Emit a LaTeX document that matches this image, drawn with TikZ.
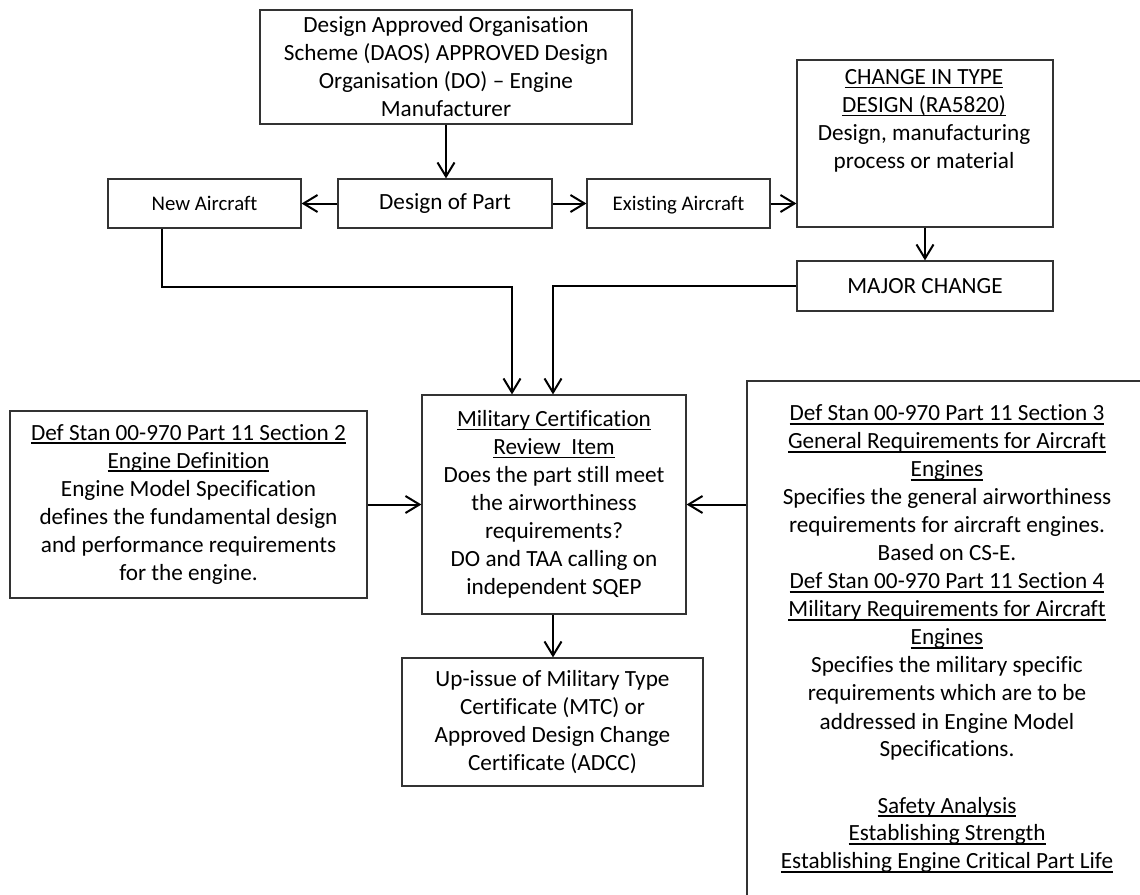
\documentclass[tikz,border=0pt]{standalone}
\usepackage{fontspec}
\setmainfont{Carlito}[Ligatures={TeX,NoCommon}]
\usetikzlibrary{arrows.meta,calc}
% underline at a fixed depth below the baseline
\newsavebox{\ulnbox}
\newcommand{\uln}[1]{\sbox{\ulnbox}{#1}\leavevmode\rlap{\rule[-1.9pt]{\wd\ulnbox}{0.9pt}}\usebox{\ulnbox}}
\newcommand{\mainfs}{\fontsize{11.6}{14}\selectfont}
\newcommand{\smallfs}{\fontsize{10.4}{12.6}\selectfont}
\tikzset{
  box/.style={draw=black!80, line width=0.6pt, rectangle, inner sep=0pt,
    align=center, font=\mainfs},
  smallbox/.style={box, font=\smallfs, text height=8.2pt, text depth=1.6pt},
  txt/.style={inner sep=0pt, align=center, font=\mainfs},
  arr/.style={draw=black, line width=1pt,
    -{Straight Barb[length=7pt,width=8.5pt]}}
}
\begin{document}
\begin{tikzpicture}[x=0.5pt,y=-0.5pt]
\useasboundingbox (0,0) rectangle (1140,894);
\clip (0,0) rectangle (1140,894);
\fill[white] (0,0) rectangle (1140,894);

% top row
\node[box, minimum width=186pt, minimum height=57pt] (dao) at (446,67)
  {Design Approved Organisation\\Scheme (DAOS) APPROVED Design\\Organisation (DO) – Engine\\Manufacturer};
\node[smallbox, minimum width=96.5pt, minimum height=24.5pt] (newac) at (204.5,203.5) {New Aircraft};
\node[box, minimum width=107pt, minimum height=24.5pt] (part) at (445,203.5) {Design of Part};
\node[smallbox, minimum width=91.5pt, minimum height=24.5pt] (exist) at (678.5,203.5) {Existing Aircraft};
\node[box, minimum width=128pt, minimum height=83.5pt] (ctd) at (925,143.5) {};
\node[txt] (ctdtext) at (924,121)
  {\uln{CHANGE IN TYPE}\\\uln{DESIGN (RA5820)}\\Design, manufacturing\\process or material};
\node[box, minimum width=128pt, minimum height=25pt] (major) at (925,286) {MAJOR CHANGE};

% middle row
\node[box, minimum width=132pt, minimum height=109.5pt] (mcri) at (554,504.5)
  {\uln{Military Certification}\\\uln{Review\ \ Item}\\Does the part still meet\\the airworthiness\\requirements?\\DO and TAA calling on\\independent SQEP};
\node[box, minimum width=178.5pt, minimum height=93.5pt] (sec2) at (188.5,504.5)
  {\uln{Def Stan 00-970 Part 11 Section 2}\\\uln{Engine Definition}\\Engine Model Specification\\defines the fundamental design\\and performance requirements\\for the engine.};
\node[box, minimum width=200pt, minimum height=264.5pt] (req) at (947,645.5) {};
\node[txt] (reqtext) at (947,639)
  {\uln{Def Stan 00-970 Part 11 Section 3}\\
   \uln{General Requirements for Aircraft}\\
   \uln{Engines}\\
   Specifies the general airworthiness\\
   requirements for aircraft engines.\\
   Based on CS-E.\\
   \uln{Def Stan 00-970 Part 11 Section 4}\\
   \uln{Military Requirements for Aircraft}\\
   \uln{Engines}\\
   Specifies the military specific\\
   requirements which are to be\\
   addressed in Engine Model\\
   Specifications.\\[14pt]
   \uln{Safety Analysis}\\
   \uln{Establishing Strength}\\
   \uln{Establishing Engine Critical Part Life}};

% bottom
\node[box, minimum width=150.5pt, minimum height=64pt] (mtc) at (552.5,722)
  {Up-issue of Military Type\\Certificate (MTC) or\\Approved Design Change\\Certificate (ADCC)};

% connectors
\coordinate (nadrop) at ($(newac.south west)+(55,0)$);
\coordinate (najoin) at (512,287);
\draw[arr] (dao.south) -- (dao.south |- part.north);
\draw[arr] (part.west) -- (newac.east);
\draw[arr] (part.east) -- (exist.west);
\draw[arr] (exist.east) -- (exist.east -| ctd.west);
\draw[arr] (ctd.south) -- (major.north);
\draw[arr] (nadrop) |- (najoin) -- (najoin |- mcri.north);
\draw[arr] (major.west) -| ($(mcri.north)+(-1,0)$);
\draw[arr] (sec2.east) -- (mcri.west);
\draw[arr] (mcri.east -| req.west) -- (mcri.east);
\draw[arr] ($(mcri.south)+(-1,0)$) -- ($(mcri.south |- mtc.north)+(-1,0)$);
\end{tikzpicture}
\end{document}
